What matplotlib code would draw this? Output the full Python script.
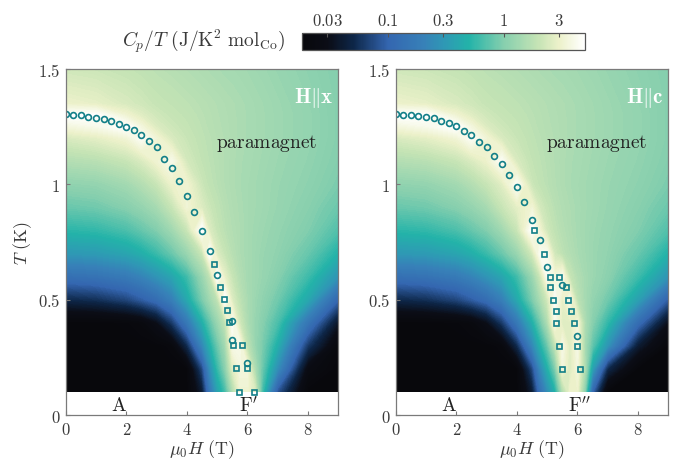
import numpy as np
import matplotlib
matplotlib.use('Agg')
import matplotlib.pyplot as plt
from matplotlib.colors import LinearSegmentedColormap, LogNorm
from matplotlib.cm import ScalarMappable
from matplotlib.ticker import FixedLocator, FixedFormatter

plt.rcParams['mathtext.fontset'] = 'cm'
plt.rcParams['font.family'] = ['DejaVu Serif']

# ---------------- data ----------------
H_grid = [0, 1, 2, 2.5, 3, 3.5, 4, 4.5, 4.75, 5, 5.25, 5.5, 5.75, 6, 6.25, 6.5, 7, 8, 9]
T_grid = [0.1, 0.2, 0.3, 0.4, 0.5, 0.6, 0.7, 0.8, 0.9, 1.0, 1.1, 1.2, 1.25, 1.3, 1.35, 1.5]

# Cp/T (J/K^2 mol_Co), H || x
cpt_x = [
    [0.015, 0.015, 0.015, 0.015, 0.015, 0.015, 0.015, 0.04, 0.15, 0.35, 0.6, 1.5, 3.2, 3.2, 2.5, 0.6, 0.08, 0.015, 0.015],
    [0.015, 0.015, 0.015, 0.015, 0.015, 0.015, 0.018, 0.07, 0.25, 0.55, 1.0, 2.5, 3.5, 3.5, 1.5, 0.8, 0.25, 0.025, 0.015],
    [0.015, 0.015, 0.015, 0.015, 0.016, 0.02, 0.05, 0.22, 0.45, 0.8, 1.3, 3.8, 4.0, 1.8, 1.2, 0.9, 0.45, 0.06, 0.02],
    [0.018, 0.018, 0.019, 0.021, 0.03, 0.06, 0.16, 0.45, 0.75, 1.2, 1.8, 4.5, 2.2, 1.5, 1.2, 1.0, 0.65, 0.15, 0.035],
    [0.05, 0.055, 0.07, 0.09, 0.12, 0.19, 0.4, 0.9, 1.3, 1.8, 5.0, 2.5, 1.8, 1.45, 1.25, 1.1, 0.85, 0.4, 0.1],
    [0.13, 0.14, 0.17, 0.21, 0.28, 0.38, 0.6, 1.2, 1.8, 5.0, 2.8, 2.0, 1.6, 1.4, 1.3, 1.2, 1.0, 0.6, 0.28],
    [0.3, 0.32, 0.38, 0.45, 0.58, 0.8, 1.2, 2.0, 5.0, 2.5, 2.0, 1.7, 1.5, 1.4, 1.3, 1.22, 1.1, 0.8, 0.48],
    [0.52, 0.55, 0.65, 0.78, 0.95, 1.3, 2.0, 5.0, 2.5, 2.0, 1.75, 1.6, 1.5, 1.4, 1.32, 1.26, 1.15, 0.95, 0.68],
    [0.8, 0.85, 1.0, 1.15, 1.4, 2.0, 3.3, 2.5, 2.1, 1.85, 1.68, 1.55, 1.48, 1.4, 1.35, 1.3, 1.2, 1.02, 0.82],
    [1.1, 1.15, 1.35, 1.6, 2.0, 3.0, 3.2, 2.1, 1.85, 1.72, 1.6, 1.52, 1.45, 1.4, 1.35, 1.3, 1.22, 1.08, 0.92],
    [1.6, 1.7, 2.0, 2.4, 3.2, 4.0, 2.3, 1.9, 1.78, 1.68, 1.6, 1.52, 1.46, 1.42, 1.38, 1.33, 1.25, 1.12, 0.97],
    [2.4, 2.7, 3.3, 4.5, 3.3, 2.4, 2.05, 1.82, 1.74, 1.66, 1.6, 1.53, 1.48, 1.44, 1.4, 1.36, 1.28, 1.15, 1.0],
    [3.5, 4.0, 5.0, 3.5, 2.5, 2.15, 1.95, 1.78, 1.7, 1.64, 1.58, 1.53, 1.48, 1.44, 1.4, 1.36, 1.28, 1.15, 1.0],
    [5.0, 5.0, 3.2, 2.6, 2.2, 2.0, 1.88, 1.74, 1.68, 1.62, 1.57, 1.52, 1.48, 1.44, 1.4, 1.36, 1.28, 1.15, 1.0],
    [3.0, 2.8, 2.4, 2.2, 2.0, 1.9, 1.8, 1.7, 1.65, 1.6, 1.55, 1.51, 1.47, 1.43, 1.39, 1.35, 1.27, 1.13, 1.0],
    [2.2, 2.1, 1.95, 1.85, 1.75, 1.68, 1.6, 1.52, 1.48, 1.45, 1.42, 1.4, 1.37, 1.34, 1.3, 1.27, 1.2, 1.08, 0.98],
]

# Cp/T (J/K^2 mol_Co), H || c
cpt_c = [
    [0.015, 0.015, 0.015, 0.015, 0.015, 0.015, 0.015, 0.04, 0.12, 0.25, 0.45, 1.5, 3.0, 3.0, 1.0, 0.1, 0.016, 0.015, 0.015],
    [0.015, 0.015, 0.015, 0.015, 0.015, 0.015, 0.018, 0.07, 0.22, 0.45, 0.9, 3.5, 2.5, 3.5, 1.5, 0.35, 0.05, 0.016, 0.015],
    [0.015, 0.015, 0.015, 0.015, 0.016, 0.02, 0.05, 0.22, 0.45, 0.8, 1.8, 3.8, 2.5, 3.8, 1.4, 0.75, 0.28, 0.04, 0.018],
    [0.018, 0.018, 0.019, 0.021, 0.03, 0.06, 0.16, 0.45, 0.8, 1.5, 4.0, 2.6, 2.6, 3.5, 1.5, 1.0, 0.55, 0.12, 0.03],
    [0.05, 0.055, 0.07, 0.09, 0.12, 0.19, 0.4, 0.9, 1.4, 2.2, 4.5, 2.8, 4.0, 1.8, 1.4, 1.15, 0.85, 0.35, 0.09],
    [0.13, 0.14, 0.17, 0.21, 0.28, 0.38, 0.6, 1.2, 2.0, 4.2, 3.5, 4.2, 2.0, 1.6, 1.4, 1.25, 1.05, 0.6, 0.28],
    [0.3, 0.32, 0.38, 0.45, 0.58, 0.8, 1.2, 2.2, 4.2, 4.2, 2.2, 1.8, 1.6, 1.45, 1.35, 1.25, 1.12, 0.8, 0.48],
    [0.52, 0.55, 0.65, 0.78, 0.95, 1.3, 2.0, 5.0, 3.3, 2.2, 1.85, 1.65, 1.52, 1.42, 1.34, 1.27, 1.16, 0.95, 0.68],
    [0.8, 0.85, 1.0, 1.15, 1.4, 2.0, 2.7, 3.3, 2.3, 1.95, 1.72, 1.58, 1.5, 1.42, 1.36, 1.3, 1.2, 1.02, 0.82],
    [1.1, 1.15, 1.35, 1.6, 2.0, 2.6, 4.5, 2.1, 1.88, 1.74, 1.62, 1.52, 1.45, 1.4, 1.35, 1.3, 1.22, 1.08, 0.92],
    [1.6, 1.7, 2.0, 2.4, 3.0, 4.5, 2.4, 1.92, 1.8, 1.7, 1.6, 1.52, 1.46, 1.42, 1.38, 1.33, 1.25, 1.12, 0.97],
    [2.4, 2.7, 3.3, 4.5, 3.3, 2.4, 2.05, 1.82, 1.74, 1.66, 1.6, 1.53, 1.48, 1.44, 1.4, 1.36, 1.28, 1.15, 1.0],
    [3.5, 4.0, 5.0, 3.5, 2.5, 2.15, 1.95, 1.78, 1.7, 1.64, 1.58, 1.53, 1.48, 1.44, 1.4, 1.36, 1.28, 1.15, 1.0],
    [5.0, 5.0, 3.2, 2.6, 2.2, 2.0, 1.88, 1.74, 1.68, 1.62, 1.57, 1.52, 1.48, 1.44, 1.4, 1.36, 1.28, 1.15, 1.0],
    [3.0, 2.8, 2.4, 2.2, 2.0, 1.9, 1.8, 1.7, 1.65, 1.6, 1.55, 1.51, 1.47, 1.43, 1.39, 1.35, 1.27, 1.13, 1.0],
    [2.2, 2.1, 1.95, 1.85, 1.75, 1.68, 1.6, 1.52, 1.48, 1.45, 1.42, 1.4, 1.37, 1.34, 1.3, 1.27, 1.2, 1.08, 0.98],
]

# transition points, H || x
x_circ_H = [0, 0.25, 0.5, 0.75, 1.0, 1.25, 1.5, 1.75, 2.0, 2.25, 2.5, 2.75, 3.0, 3.25, 3.5,
            3.75, 4.0, 4.25, 4.5, 4.75, 5.0, 5.5, 5.5, 6.0]
x_circ_T = [1.305, 1.302, 1.299, 1.292, 1.286, 1.283, 1.276, 1.263, 1.248, 1.234, 1.214, 1.186,
            1.160, 1.110, 1.069, 1.016, 0.951, 0.881, 0.799, 0.712, 0.607, 0.406, 0.324, 0.224]
x_sq_H = [4.91, 5.10, 5.21, 5.31, 5.39, 5.52, 5.82, 5.61, 6.0, 5.72, 6.22]
x_sq_T = [0.655, 0.554, 0.503, 0.454, 0.403, 0.302, 0.302, 0.202, 0.202, 0.1, 0.1]

# transition points, H || c
c_circ_H = [0, 0.25, 0.5, 0.75, 1.0, 1.25, 1.5, 1.75, 2.0, 2.25, 2.5, 2.75, 3.0, 3.25, 3.5,
            3.75, 4.0, 4.25, 4.5, 4.75, 5.0, 5.5, 6.0]
c_circ_T = [1.305, 1.299, 1.302, 1.297, 1.290, 1.286, 1.273, 1.267, 1.253, 1.231, 1.214, 1.182,
            1.160, 1.124, 1.088, 1.040, 0.987, 0.923, 0.845, 0.760, 0.643, 0.565, 0.341]
c_sq_H = [4.58, 4.89, 5.09, 5.39, 5.09, 5.61, 5.20, 5.68, 5.28, 5.80, 5.28, 5.90, 5.38, 5.99, 5.50, 6.08]
c_sq_T = [0.8, 0.7, 0.6, 0.6, 0.555, 0.555, 0.5, 0.5, 0.45, 0.45, 0.4, 0.4, 0.3, 0.3, 0.2, 0.2]

cbar_ticks = [0.03, 0.1, 0.3, 1, 3]
cbar_ticklabels = ['0.03', '0.1', '0.3', '1', '3']
x_ticks = [0, 2, 4, 6, 8]
y_ticks = [0, 0.5, 1, 1.5]
y_ticklabels = ['0', '0.5', '1', '1.5']

# ---------------- style ----------------
vmin, vmax = 0.018, 5.0
anchor_vals = [0.018, 0.03, 0.05, 0.1, 0.2, 0.3, 0.5, 1.0, 2.0, 3.0, 5.0]
anchor_cols = ['#08080c', '#0b0d16', '#0d2648', '#3466b0', '#3780b8', '#2f97b5',
               '#23b3a9', '#86cfae', '#c6e4b5', '#ecf1ca', '#ffffff']
lv = np.log10(anchor_vals)
pos = (lv - lv[0]) / (lv[-1] - lv[0])
cmap = LinearSegmentedColormap.from_list('cpt', list(zip(pos, anchor_cols)))
norm = LogNorm(vmin=vmin, vmax=vmax)
levels = np.linspace(np.log10(vmin), np.log10(vmax), 160)

mark_col = '#127f88'
frame_col = '#7a7a7a'
text_col = '#3a3a3a'

fig = plt.figure(figsize=(6.74, 4.64), dpi=100)
axL = fig.add_axes([0.0975, 0.1034, 0.4045, 0.7457])
axR = fig.add_axes([0.5871, 0.1034, 0.4045, 0.7457])
cax = fig.add_axes([0.4476, 0.8907, 0.4203, 0.036])

panels = [
    (axL, cpt_x, x_circ_H, x_circ_T, x_sq_H, x_sq_T, r'$\mathbf{H}\Vert\mathbf{x}$', r"$\mathrm{F}'$"),
    (axR, cpt_c, c_circ_H, c_circ_T, c_sq_H, c_sq_T, r'$\mathbf{H}\Vert\mathbf{c}$', r"$\mathrm{F}''$"),
]

for ax, Z, cH, cT, sH, sT, lab, flab in panels:
    logZ = np.log10(np.clip(np.array(Z, dtype=float), vmin, vmax))
    ax.contourf(H_grid, T_grid, logZ, levels=levels, cmap=cmap, antialiased=False)
    ax.plot(sH, sT, 's', ms=3.6, mfc='none', mec=mark_col, mew=1.2, zorder=5)
    ax.plot(cH, cT, 'o', ms=4.2, mfc='none', mec=mark_col, mew=1.2, zorder=5)
    ax.set_xlim(0, 9)
    ax.set_ylim(0, 1.5)
    ax.xaxis.set_major_locator(FixedLocator(x_ticks))
    ax.xaxis.set_major_formatter(FixedFormatter([f'${t}$' for t in x_ticks]))
    ax.yaxis.set_major_locator(FixedLocator(y_ticks))
    ax.yaxis.set_major_formatter(FixedFormatter([f'${t}$' for t in y_ticklabels]))
    ax.tick_params(direction='in', length=3, width=0.8, color=frame_col,
                   labelcolor=text_col, labelsize=12, pad=4)
    for sp in ax.spines.values():
        sp.set_color(frame_col)
        sp.set_linewidth(0.9)
        sp.set_zorder(6)
    ax.set_xlabel(r'$\mu_0 H\ \mathrm{(T)}$', fontsize=13, color=text_col, labelpad=0)
    ax.text(8.85, 1.38, lab, color='white', fontsize=15, ha='right', va='center')
    ax.text(6.63, 1.18, r'$\mathrm{paramagnet}$', color='#222222', fontsize=14,
            ha='center', va='center')
    ax.text(1.75, 0.045, r'$\mathrm{A}$', color='#222222', fontsize=14, ha='center', va='center')
    ax.text(6.05, 0.045, flab, color='#222222', fontsize=14, ha='center', va='center')

axL.set_ylabel(r'$T\ \mathrm{(K)}$', fontsize=13, color=text_col, labelpad=3)

sm = ScalarMappable(norm=norm, cmap=cmap)
cb = fig.colorbar(sm, cax=cax, orientation='horizontal')
cb.set_ticks(cbar_ticks)
cb.set_ticklabels([f'${t}$' for t in cbar_ticklabels])
cb.ax.xaxis.set_ticks_position('top')
cb.ax.minorticks_off()
cb.ax.tick_params(direction='in', length=3, width=0.8, color='#555555',
                  labelcolor=text_col, labelsize=12, pad=3)
cb.outline.set_edgecolor('#555555')
cb.outline.set_linewidth(0.9)
fig.text(0.423, 0.912, r'$C_p/T\ \mathrm{(J/K^2\ mol_{Co})}$', fontsize=14,
         color=text_col, ha='right', va='center')

fig.savefig('out.png', dpi=100)
